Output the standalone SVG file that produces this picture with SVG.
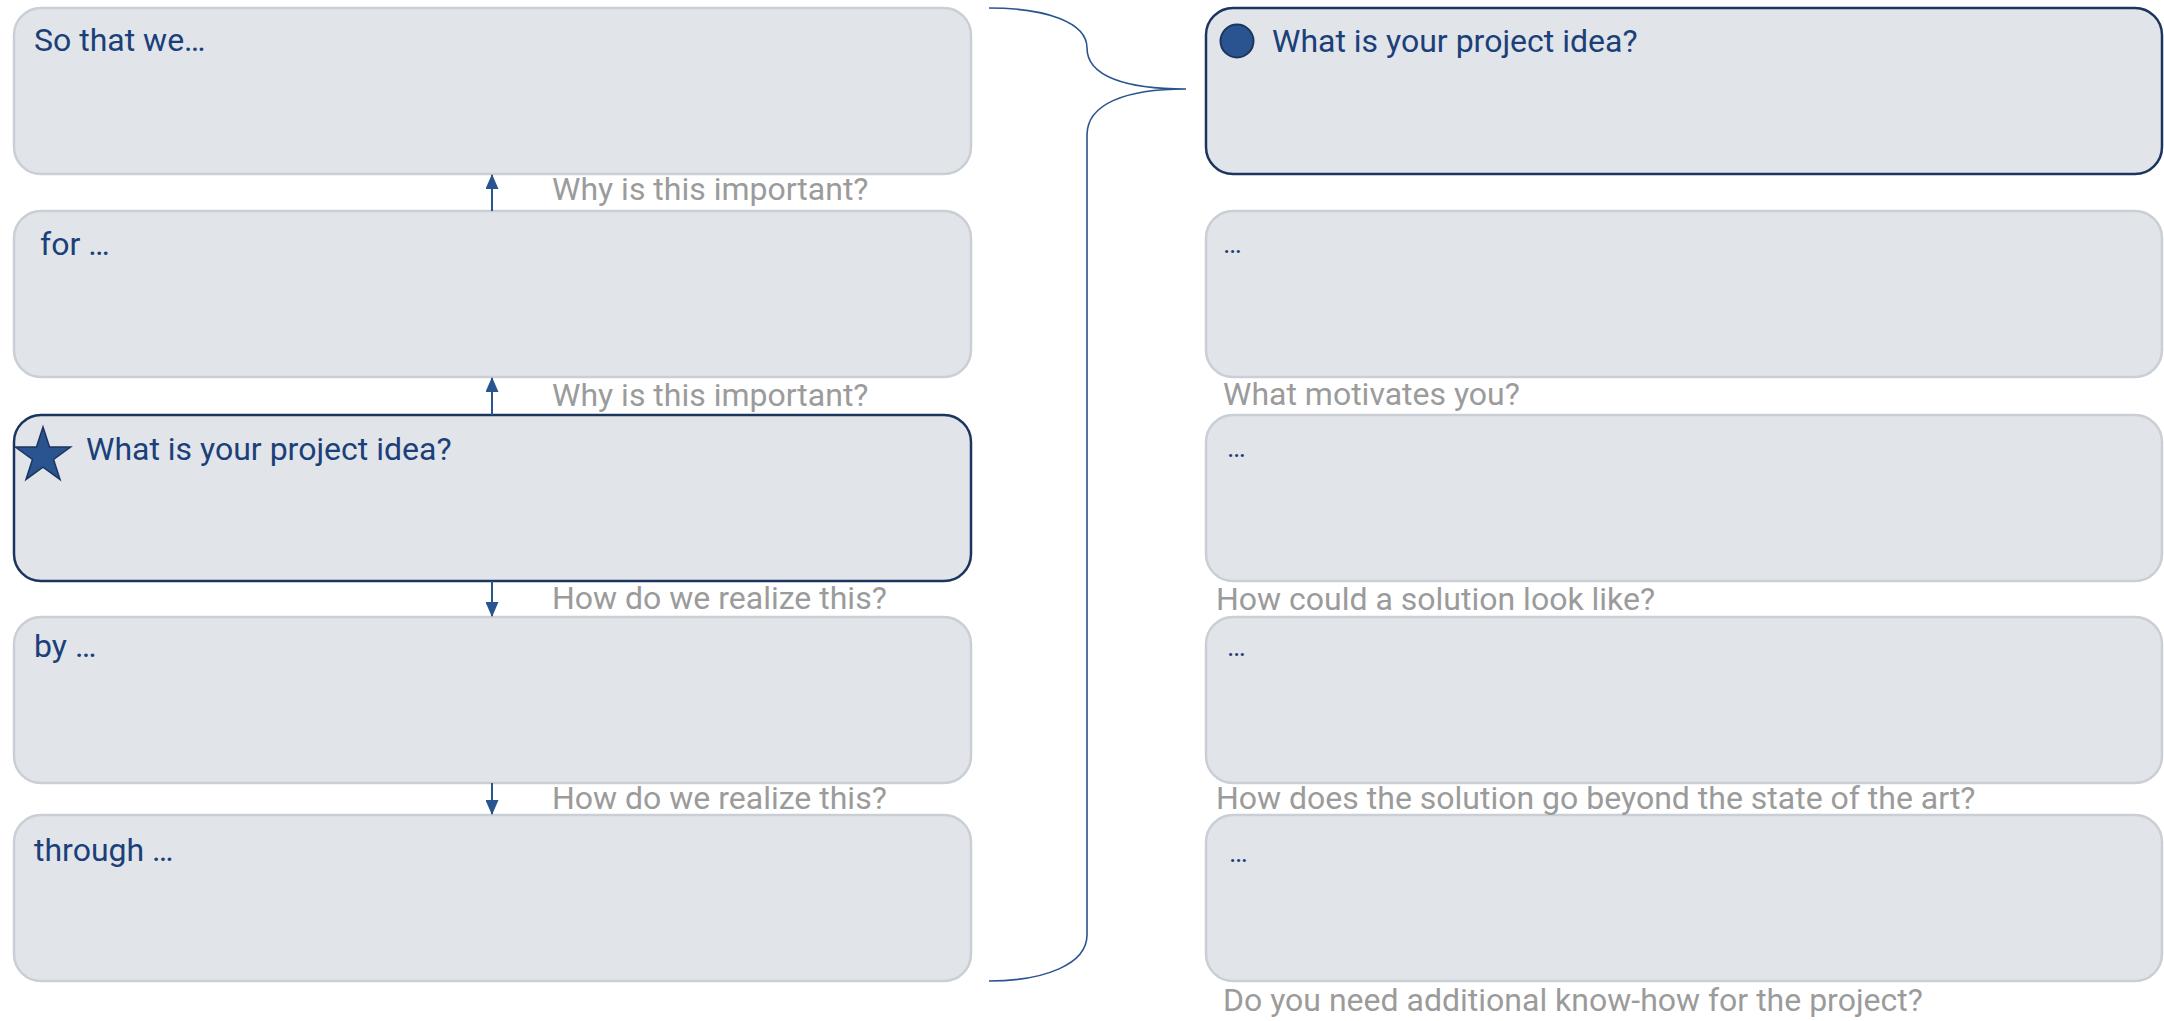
<svg xmlns="http://www.w3.org/2000/svg" width="2164" height="1021" viewBox="0 0 2164 1021">
<defs>
<style>
.box{fill:#e1e5e9;stroke:#c9cfd5;stroke-width:2.5}
.hl{fill:#e1e5e9;stroke:#1c355f;stroke-width:2.5}
.t{font-family:Roboto,"Liberation Sans",sans-serif;font-size:32px;fill:#1b4079}
.q{font-family:Roboto,"Liberation Sans",sans-serif;font-size:32px;fill:#9b9b9b}
.dots{font-family:Roboto,"Liberation Sans",sans-serif;font-size:28px;fill:#1b4079}
.conn{fill:none;stroke:#2a5490;stroke-width:2}
</style>
<marker id="ah" viewBox="0 0 15 13" refX="14" refY="6.5" markerWidth="15" markerHeight="13" markerUnits="userSpaceOnUse" orient="auto">
<path d="M0,0 L15,6.5 L0,13 Z" fill="#2a5490"/>
</marker>
</defs>

<g id="left-1"><rect class="box" x="14" y="8" width="957" height="166" rx="27"/><text class="t" x="34" y="51">So that we…</text></g>
<g id="left-2"><rect class="box" x="14" y="211" width="957" height="166" rx="27"/><text class="t" x="40" y="255">for …</text></g>
<g id="left-3"><rect class="hl" x="14" y="415" width="957" height="166" rx="27"/>
<polygon points="43,427 49.52,447.02 70.58,447.04 53.56,459.43 60.05,479.46 43,467.1 25.95,479.46 32.44,459.43 15.42,447.04 36.48,447.02" fill="#2a5490" stroke="#1c355f" stroke-width="1.5"/>
<text class="t" x="86" y="460">What is your project idea?</text></g>
<g id="left-4"><rect class="box" x="14" y="617" width="957" height="166" rx="27"/><text class="t" x="34" y="657">by …</text></g>
<g id="left-5"><rect class="box" x="14" y="815" width="957" height="166" rx="27"/><text class="t" x="34" y="861">through …</text></g>

<g id="right-1"><rect class="hl" x="1206" y="8" width="956" height="166" rx="27"/>
<circle cx="1237" cy="41" r="16.5" fill="#2a5490" stroke="#1c355f" stroke-width="2"/>
<text class="t" x="1272" y="52">What is your project idea?</text></g>
<g id="right-2"><rect class="box" x="1206" y="211" width="956" height="166" rx="27"/><text class="dots" x="1223" y="253">…</text></g>
<g id="right-3"><rect class="box" x="1206" y="415" width="956" height="166" rx="27"/><text class="dots" x="1227" y="457">…</text></g>
<g id="right-4"><rect class="box" x="1206" y="617" width="956" height="166" rx="27"/><text class="dots" x="1227" y="656">…</text></g>
<g id="right-5"><rect class="box" x="1206" y="815" width="956" height="166" rx="27"/><text class="dots" x="1229" y="862">…</text></g>

<g id="connectors">
<line class="conn" x1="492" y1="211" x2="492" y2="175" marker-end="url(#ah)"/>
<line class="conn" x1="492" y1="415" x2="492" y2="378" marker-end="url(#ah)"/>
<line class="conn" x1="492" y1="581" x2="492" y2="616" marker-end="url(#ah)"/>
<line class="conn" x1="492" y1="783" x2="492" y2="814" marker-end="url(#ah)"/>
<path d="M989,8 C1045,8 1087,22 1087,48 C1087,76 1125,89 1186,89 C1125,89 1087,104 1087,135 L1087,935 C1087,964 1045,981 989,981" fill="none" stroke="#2a5490" stroke-width="1.6"/>
</g>

<g id="labels">
<text class="q" x="552" y="200">Why is this important?</text>
<text class="q" x="552" y="406">Why is this important?</text>
<text class="q" x="552" y="609">How do we realize this?</text>
<text class="q" x="552" y="809">How do we realize this?</text>
<text class="q" x="1223" y="405">What motivates you?</text>
<text class="q" x="1216" y="610">How could a solution look like?</text>
<text class="q" x="1216" y="809">How does the solution go beyond the state of the art?</text>
<text class="q" x="1223" y="1011">Do you need additional know-how for the project?</text>
</g>
</svg>
